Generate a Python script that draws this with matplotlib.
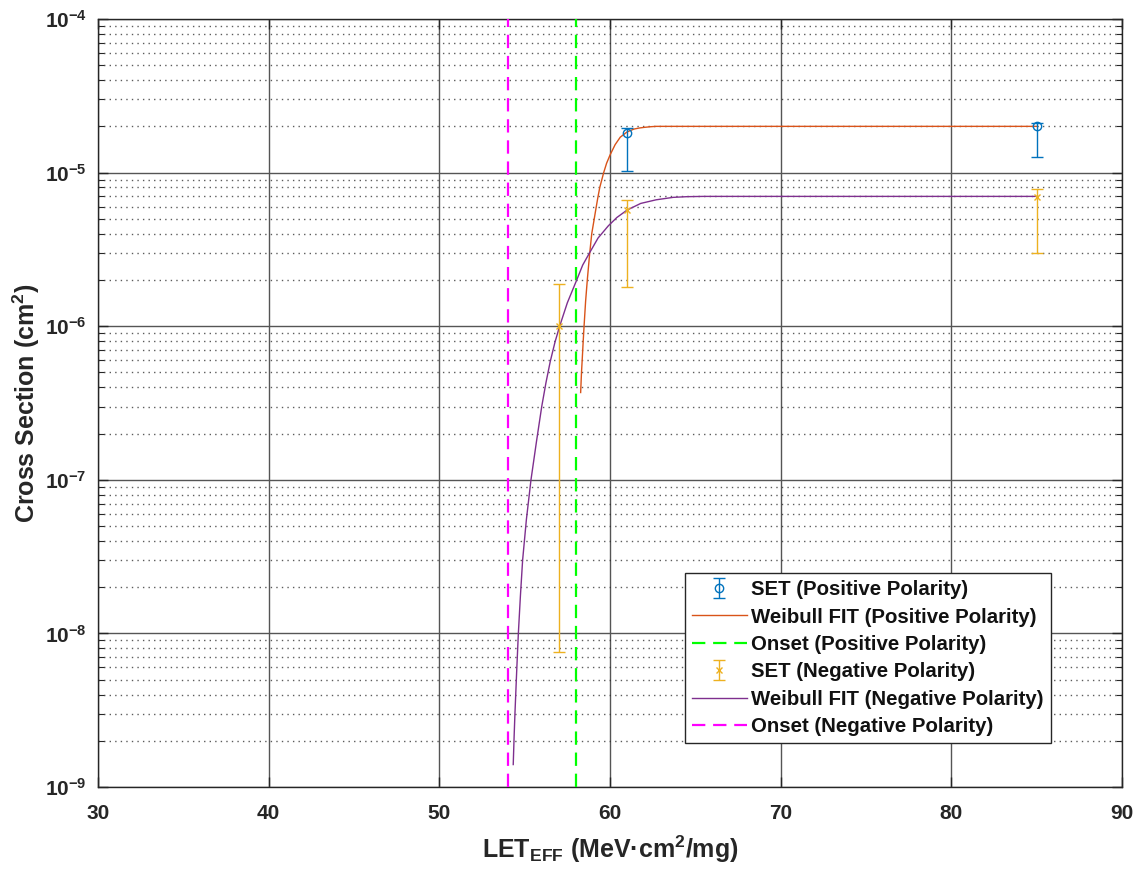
import matplotlib
matplotlib.use('Agg')
from matplotlib import pyplot as plt
from matplotlib.ticker import LogLocator, FuncFormatter, NullFormatter, MultipleLocator, NullLocator
import numpy as np

# Measured SET cross sections (value, lower end, upper end of error bar)
pos_let = [61, 85]
pos_sigma = [1.80e-5, 2.00e-5]
pos_lo = [1.02e-5, 1.26e-5]
pos_hi = [1.94e-5, 2.11e-5]

neg_let = [57, 61, 85]
neg_sigma = [1.0e-6, 5.71e-6, 6.97e-6]
neg_lo = [7.6e-9, 1.79e-6, 3.01e-6]
neg_hi = [1.88e-6, 6.63e-6, 7.78e-6]

# Weibull fit curves
pos_fit_let = [58.28, 58.33, 58.38, 58.43, 58.48, 58.57, 58.67, 58.8, 58.93, 59.05, 59.15, 59.28,
               59.40, 59.51, 59.63, 59.8, 60.0, 60.3, 60.6, 61.0, 61.4, 61.7, 62.0, 62.4, 62.7, 64.0, 85.0]
pos_fit_sigma = [3.7e-7, 5.0e-7, 6.3e-7, 8.0e-7, 1.0e-6, 1.45e-6, 2.0e-6, 2.9e-6, 4.0e-6, 4.8e-6, 5.6e-6, 6.8e-6,
                 8.0e-6, 8.9e-6, 1.0e-5, 1.15e-5, 1.3e-5, 1.52e-5, 1.7e-5, 1.84e-5, 1.92e-5, 1.95e-5, 1.97e-5,
                 1.99e-5, 2.0e-5, 2.0e-5, 2.0e-5]

neg_fit_let = [54.33, 54.38, 54.43, 54.53, 54.63, 54.75, 54.88, 55.1, 55.37, 55.7, 56.0, 56.25, 56.5, 56.78,
               57.05, 57.5, 58.05, 58.4, 58.8, 59.3, 59.9, 60.4, 61.0, 61.8, 62.7, 63.7, 64.5, 65.5, 85.0]
neg_fit_sigma = [1.4e-9, 2.1e-9, 3.0e-9, 5.6e-9, 1.0e-8, 1.75e-8, 3.0e-8, 5.5e-8, 1.0e-7, 1.8e-7, 3.0e-7, 4.3e-7,
                 5.9e-7, 7.9e-7, 1.0e-6, 1.42e-6, 2.0e-6, 2.5e-6, 3.0e-6, 3.75e-6, 4.5e-6, 5.1e-6, 5.7e-6,
                 6.3e-6, 6.65e-6, 6.9e-6, 6.97e-6, 7.0e-6, 7.0e-6]

onset_pos = 58
onset_neg = 54

plt.rcParams['font.family'] = ['Liberation Sans', 'DejaVu Sans']
plt.rcParams['font.weight'] = 'bold'
plt.rcParams['mathtext.fontset'] = 'custom'
plt.rcParams['mathtext.rm'] = 'Liberation Sans:bold'
plt.rcParams['mathtext.it'] = 'Liberation Sans:bold'
plt.rcParams['mathtext.bf'] = 'Liberation Sans:bold'

fig = plt.figure(figsize=(11.38, 8.71), dpi=100)
ax = fig.add_axes([98 / 1138, 1 - 787 / 871, 1024 / 1138, 768 / 871])

def bars(y, lo, hi):
    y = np.array(y)
    return [y - np.array(lo), np.array(hi) - y]

h1 = ax.errorbar(pos_let, pos_sigma, yerr=bars(pos_sigma, pos_lo, pos_hi), fmt='o', color='#0072BD',
                 mfc='none', ms=6, mew=1, elinewidth=1, capsize=4.5, capthick=1,
                 label='SET (Positive Polarity)', zorder=4)
h2, = ax.plot(pos_fit_let, pos_fit_sigma, color='#D95319', lw=1, label='Weibull FIT (Positive Polarity)', zorder=3)
h3 = ax.axvline(onset_pos, color='#00FF00', lw=1.6, ls=(0, (6, 3.5)), label='Onset (Positive Polarity)', zorder=3)

h4 = ax.errorbar(neg_let, neg_sigma, yerr=bars(neg_sigma, neg_lo, neg_hi), fmt='x', color='#EDB120',
                 ms=4, mew=1, elinewidth=1, capsize=4.5, capthick=1,
                 label='SET (Negative Polarity)', zorder=4)
h5, = ax.plot(neg_fit_let, neg_fit_sigma, color='#7E2F8E', lw=1, label='Weibull FIT (Negative Polarity)', zorder=3)
h6 = ax.axvline(onset_neg, color='#FF00FF', lw=1.6, ls=(0, (6, 3.5)), label='Onset (Negative Polarity)', zorder=3)

ax.set_yscale('log')
ax.set_xlim(30, 90)
ax.set_ylim(1e-9, 1e-4)
ax.xaxis.set_major_locator(MultipleLocator(10))
ax.xaxis.set_minor_locator(NullLocator())
ax.yaxis.set_major_locator(LogLocator(base=10, numticks=10))
ax.yaxis.set_minor_locator(LogLocator(base=10, subs=np.arange(2, 10), numticks=20))
ax.yaxis.set_minor_formatter(NullFormatter())
ax.yaxis.set_major_formatter(FuncFormatter(lambda v, p: r'$10^{%d}$' % round(np.log10(v))))

ax.tick_params(which='both', direction='in', top=True, right=True, colors='#262626', labelcolor='#262626')
ax.tick_params(which='major', length=7, width=1, labelsize=15)
ax.tick_params(which='minor', length=4, width=0.8)
ax.tick_params(axis='x', pad=12)
ax.tick_params(axis='y', pad=8)

ax.grid(True, which='major', color='#555555', lw=1, ls='-', zorder=0)
ax.grid(True, which='minor', axis='y', color='#333333', lw=1, ls=(0, (1, 3)), alpha=0.8, zorder=0)
ax.set_axisbelow(True)
for s in ax.spines.values():
    s.set_color('#262626')
    s.set_linewidth(1)

ax.set_xlabel(r'LET$_{EFF}$ (MeV·cm$^{2}$/mg)', fontsize=18, fontweight='bold', color='#262626', labelpad=8)
ax.set_ylabel(r'Cross Section (cm$^{2}$)', fontsize=18, fontweight='bold', color='#262626', labelpad=2)

leg = ax.legend([h1, h2, h3, h4, h5, h6], [h.get_label() for h in [h1, h2, h3, h4, h5, h6]],
                loc='lower left', bbox_to_anchor=(0.573, 0.057), borderaxespad=0, fontsize=14.7,
                handlelength=2.7, handletextpad=0.2, borderpad=0.35, labelspacing=0.41,
                fancybox=False, framealpha=1, edgecolor='#262626')
leg.get_frame().set_linewidth(1)
for t in leg.get_texts():
    t.set_color('#111111')

fig.savefig('out.png', dpi=100)
